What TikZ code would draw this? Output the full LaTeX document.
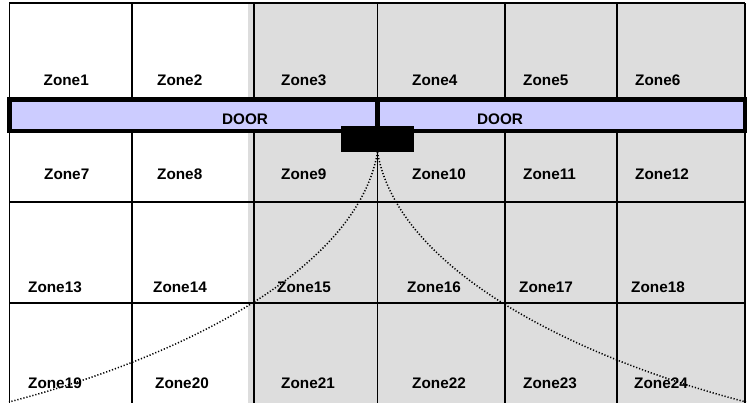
\documentclass[tikz,border=0pt]{standalone}
\usepackage{fontspec}
\setmainfont{Liberation Sans}
\definecolor{zonegray}{HTML}{DDDDDD}
\definecolor{doorfill}{HTML}{CCCCFF}
\begin{document}
\begin{tikzpicture}[x=1pt,y=-1pt,
  gridline/.style={line width=1.9pt},
  doorbox/.style={draw, line width=4.4pt, fill=doorfill, rectangle, inner sep=0pt, outer sep=0pt},
  zonelabel/.style={inner sep=0pt, anchor=west, font=\fontsize{15.3}{18}\selectfont\bfseries},
  doorlabel/.style={inner sep=0pt, font=\fontsize{15.3}{18}\selectfont\bfseries},
  sensorbox/.style={fill=black, rectangle, inner sep=0pt, outer sep=0pt, minimum width=73pt, minimum height=26pt},
  sight/.style={line width=1.5pt, dash pattern=on 1.2pt off 1.9pt}]
\useasboundingbox (0,0) rectangle (751,402);
\clip (0,0) rectangle (751,402);
% shaded area
\fill[zonegray] (248,3) rectangle (745,406);
% grid
\draw[gridline] (9,3) -- (745,3);
\draw[gridline] (9,202) -- (745,202);
\draw[gridline] (9,303) -- (745,303);
\foreach \xx in {9.5,132,254,377.5,505,617,745}
  \draw[gridline] (\xx,3) -- (\xx,406);
% doors
\node[doorbox, minimum width=368pt, minimum height=31.7pt] (doorL) at (193.5,115.35) {};
\node[doorbox, minimum width=367.5pt, minimum height=31.7pt] (doorR) at (561.25,115.35) {};
\node[doorlabel] (doorLt) at (245,119) {DOOR};
\node[doorlabel] (doorRt) at (500,119) {DOOR};
% sensor
\node[sensorbox] (sensor) at (377.5,139) {};
% zone labels
\node[zonelabel] (z1) at (43.5,80) {Zone1};
\node[zonelabel] (z2) at (157,80) {Zone2};
\node[zonelabel] (z3) at (281,80) {Zone3};
\node[zonelabel] (z4) at (412,80) {Zone4};
\node[zonelabel] (z5) at (523,80) {Zone5};
\node[zonelabel] (z6) at (635,80) {Zone6};
\node[zonelabel] (z7) at (44,174) {Zone7};
\node[zonelabel] (z8) at (157,174) {Zone8};
\node[zonelabel] (z9) at (281,174) {Zone9};
\node[zonelabel] (z10) at (412,174) {Zone10};
\node[zonelabel] (z11) at (523,174) {Zone11};
\node[zonelabel] (z12) at (635,174) {Zone12};
\node[zonelabel] (z13) at (28,287.5) {Zone13};
\node[zonelabel] (z14) at (153,287.5) {Zone14};
\node[zonelabel] (z15) at (277,287.5) {Zone15};
\node[zonelabel] (z16) at (407,287.5) {Zone16};
\node[zonelabel] (z17) at (519,287.5) {Zone17};
\node[zonelabel] (z18) at (631,287.5) {Zone18};
\node[zonelabel] (z19) at (28,383) {Zone19};
\node[zonelabel] (z20) at (155,383) {Zone20};
\node[zonelabel] (z21) at (281,383) {Zone21};
\node[zonelabel] (z22) at (412,383) {Zone22};
\node[zonelabel] (z23) at (523,383) {Zone23};
\node[zonelabel] (z24) at (634,383) {Zone24};
% field of view
\coordinate (endL) at (9,402);
\coordinate (endR) at (746,402);
\draw[sight] (sensor.south) .. controls (359,262) and (200,352) .. (endL);
\draw[sight] (sensor.south) .. controls (396,262) and (555,352) .. (endR);
\end{tikzpicture}
\end{document}
